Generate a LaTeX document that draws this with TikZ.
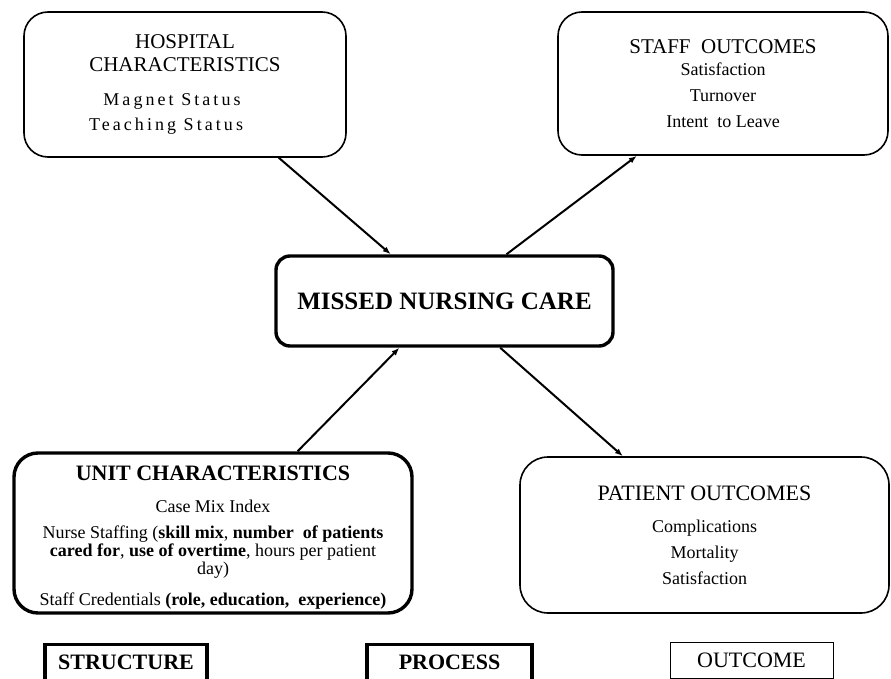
\documentclass[tikz,border=0pt]{standalone}
\usepackage{fontspec}
\setmainfont{Liberation Serif}
\usetikzlibrary{arrows.meta}

\newcommand{\fsz}[1]{\fontsize{#1}{#1}\selectfont}
\newcommand{\spaced}{\addfontfeature{LetterSpace=17}}

\begin{document}
\begin{tikzpicture}[x=1pt,y=-1pt,>={Latex[length=8pt,width=6pt]},
        box/.style={draw,line width=1.6pt,rounded corners=24pt,align=center,inner sep=0pt,font=\fsz{18}},
        heavybox/.style={draw,line width=3.4pt,align=center,inner sep=0pt,font=\fsz{18}},
        tag/.style={draw,line width=3.4pt,anchor=north,inner xsep=0pt,inner ysep=10pt,
            text height=15pt,text depth=30pt,font=\fsz{22}\bfseries},
        link/.style={->,line width=2pt}]
        \useasboundingbox (0,0) rectangle (891,679);
        % top row
        \node[box,minimum width=322pt,minimum height=145pt] (hosp) at (185,84.5)
        {\fsz{21}HOSPITAL\\[5pt]\fsz{21}CHARACTERISTICS\\[16pt]
        \hspace*{-26pt}\spaced Magnet Status\\[7pt]\hspace*{-38pt}\spaced Teaching Status};
        \node[box,minimum width=330pt,minimum height=143pt] (staff) at (723,83.5)
        {\fsz{21}STAFF\ \ OUTCOMES\\[4pt]
        Satisfaction\\[8pt]Turnover\\[8pt]Intent\ \ to Leave};
        % centre
        \node[heavybox,rounded corners=14pt,minimum width=337pt,minimum height=90pt] (missed) at (444.5,301)
        {\fsz{25}\bfseries MISSED NURSING CARE};
        % lower row
        \node[heavybox,rounded corners=24pt,minimum width=398pt,minimum height=160pt] (unit) at (213,533)
        {\rule{0pt}{23pt}\fsz{22}\bfseries UNIT\ CHARACTERISTICS\\[14pt]
        Case Mix Index\\[8pt]
        Nurse Staffing (\textbf{skill mix}, \textbf{number\ \ of patients}\\
        \textbf{cared for}, \textbf{use of overtime}, hours per patient\\
        day)\\[13pt]
        Staff Credentials \textbf{(role, education,\ \ experience)}};
        \node[box,rounded corners=28pt,minimum width=369pt,minimum height=156pt] (patient) at (704.5,535)
        {\fsz{22}PATIENT OUTCOMES\\[14pt]
        Complications\\[8pt]Mortality\\[8pt]Satisfaction};
        % arrows
        \draw[link] (hosp.-38.2) -- (missed.139.4);
        \draw[link] (missed.37.1) -- (staff.-140.6);
        \draw[link] (unit.44.3) -- (missed.-134.7);
        \draw[link] (missed.-40.6) -- (patient.136.95);
        % bottom labels
        \node[tag,minimum width=162pt] (structure) at (126,643) {STRUCTURE};
        \node[tag,minimum width=165pt] (process) at (449.5,643) {PROCESS};
        \node[draw,line width=0.8pt,minimum width=163pt,minimum height=36pt,inner sep=0pt,
            font=\fsz{22}] (outcome) at (751.5,660) {OUTCOME};
\end{tikzpicture}
\end{document}
